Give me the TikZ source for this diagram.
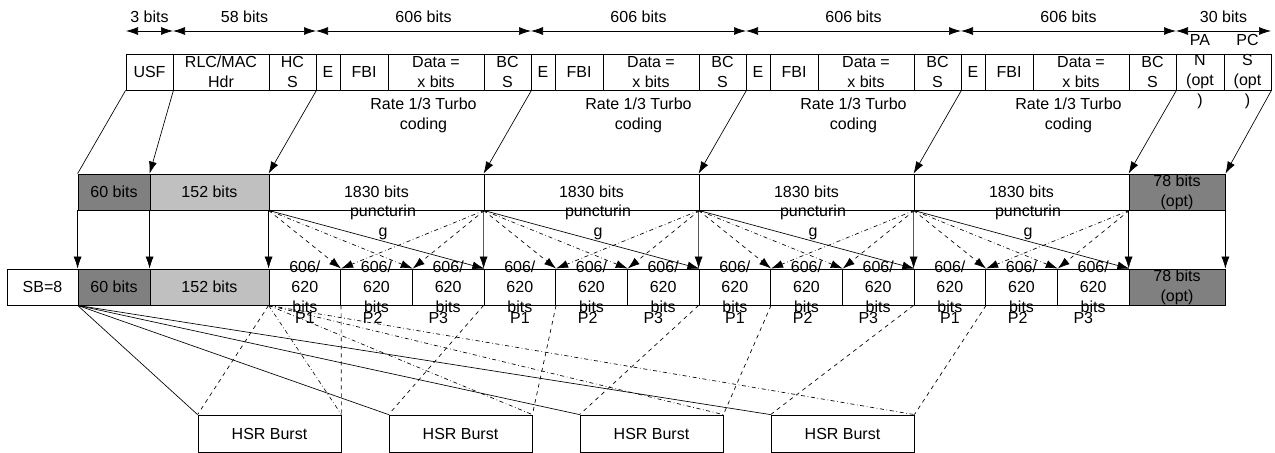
\documentclass[tikz,border=0pt]{standalone}
\usepackage{fontspec}
\setmainfont{Liberation Sans}
\usetikzlibrary{arrows.meta,fit}

\definecolor{dkfill}{HTML}{808080}
\definecolor{ltfill}{HTML}{C0C0C0}

\begin{document}
\begin{tikzpicture}[x=0.75pt, y=-0.75pt,
    every node/.style={font=\fontsize{12}{15}\selectfont},
    cell/.style={draw, inner sep=0pt, line width=0.6pt},
    lbl/.style={align=center, inner sep=0pt},
    wire/.style={line width=0.5pt},
    link/.style={wire, -{Latex[length=9pt,width=6pt]}},
    dim/.style={wire, {Latex[length=9pt,width=6pt]}-{Latex[length=9pt,width=6pt]}}]
    \useasboundingbox (0,0) rectangle (1275,453);

    % bit counts (top)
    \foreach \a/\b/\txt [count=\i] in {126/173/3 bits, 173/316/58 bits,
        316/531/606 bits, 531/746/606 bits, 746/961/606 bits,
        961/1176/606 bits, 1176/1271/30 bits} {
        \coordinate (dl\i) at (\a,31);
        \coordinate (dr\i) at (\b,31);
        \draw[dim] (dl\i) -- (dr\i);
        \node[lbl] (dt\i) at ({(\a+\b)/2},17) {\txt};
    }

    % RADIO BLOCK
    \foreach \nm/\xa/\xb/\txt in {usf/126/173/USF, hdr/173/269/{RLC/MAC\\Hdr},
        hcs/269/316/{HC\\S}, pan/1176/1224/{PA\\N\\(opt\\)},
        pcs/1224/1271/{PC\\S\\(opt\\)}} {
        \node[cell, fit={(\xa,54) (\xb,90)}] (\nm) {};
        \node[lbl] (\nm-t) at (\nm) {\txt};
    }
    \foreach \k in {0,...,3} {
        \node[cell, fit={({316+215*\k},54) ({340+215*\k},90)}] (e\k) {};
        \node[lbl] (e\k-t) at (e\k) {E};
        \node[cell, fit={({340+215*\k},54) ({388+215*\k},90)}] (fbi\k) {};
        \node[lbl] (fbi\k-t) at (fbi\k) {FBI};
        \node[cell, fit={({388+215*\k},54) ({484+215*\k},90)}] (data\k) {};
        \node[lbl] (data\k-t) at (data\k) {Data =\\x bits};
        \node[cell, fit={({484+215*\k},54) ({531+215*\k},90)}] (bcs\k) {};
        \node[lbl] (bcs\k-t) at (bcs\k) {BC\\S};
        \node[lbl] (rate\k) at ({423.5+215*\k},115) {Rate 1/3 Turbo\\coding};
    }

    % CODED BLOCK
    \node[cell, fill=dkfill, fit={(78,174) (150,210)}] (mid60) {};
    \node[lbl] (mid60-t) at (mid60) {60 bits};
    \node[cell, fill=ltfill, fit={(150,174) (269,210)}] (mid152) {};
    \node[lbl] (mid152-t) at (mid152) {152 bits};
    \foreach \k in {0,...,3} {
        \node[cell, fit={({269+215*\k},174) ({484+215*\k},210)}] (blk\k) {};
        \node[lbl] (blk\k-t) at (blk\k) {1830 bits};
        \node[lbl] (punc\k) at ({383+215*\k},222) {puncturin\\g};
    }
    \node[cell, fill=dkfill, fit={(1129,174) (1225,210)}] (mid78) {};
    \node[lbl] (mid78-t) at (mid78) {78 bits\\(opt)};

    % PUNCTURED BLOCK
    \node[cell, fit={(7,269) (78,305)}] (sb) {};
    \node[lbl] (sb-t) at (sb) {SB=8};
    \node[cell, fill=dkfill, fit={(78,269) (150,305)}] (bot60) {};
    \node[lbl] (bot60-t) at (bot60) {60 bits};
    \node[cell, fill=ltfill, fit={(150,269) (269,305)}] (bot152) {};
    \node[lbl] (bot152-t) at (bot152) {152 bits};
    \foreach \j in {0,...,11} {
        \node[cell, fit={({269+71.6667*\j},269) ({269+71.6667*(\j+1)},305)}] (p\j) {};
        \node[lbl] (p\j-t) at (p\j) {606/\\620\\bits};
    }
    \foreach \k in {0,...,3}
        \foreach \q/\off in {1/0, 2/-4, 3/-10}
            \node[lbl] (pl\k-\q) at ({305+215*\k+71.6667*(\q-1)+\off},318) {P\q};
    \node[cell, fill=dkfill, fit={(1129,269) (1225,305)}] (bot78) {};
    \node[lbl] (bot78-t) at (bot78) {78 bits\\(opt)};

    % bursts
    \foreach \j in {0,...,3} {
        \node[cell, fit={({198+191*\j},415) ({341+191*\j},452)}] (hsr\j) {};
        \node[lbl] (hsr\j-t) at (hsr\j) {HSR Burst};
    }

    % radio block -> coded block
    \draw[wire] (usf.south west) -- (mid60.north west);
    \draw[link] (usf.south east) -- (mid152.north west);
    \draw[link] (hcs.south east) -- (blk0.north west);
    \foreach \k/\n in {0/1, 1/2, 2/3}
        \draw[link] (bcs\k.south east) -- (blk\n.north west);
    \draw[link] (bcs3.south east) -- (mid78.north west);
    \draw[link] (pcs.south east) -- (mid78.north east);

    % coded block -> punctured block
    \draw[link] (mid60.south west) -- (bot60.north west);
    \draw[link] (mid152.south west) -- (bot152.north west);
    \draw[link] (mid78.south west) -- (bot78.north west);
    \draw[link] (mid78.south east) -- (bot78.north east);
    \foreach \k in {0,...,3} {
        \pgfmathtruncatemacro\pa{3*\k}
        \pgfmathtruncatemacro\pb{3*\k+1}
        \pgfmathtruncatemacro\pc{3*\k+2}
        \draw[link] (blk\k.south west) -- (p\pa.north west);
        \draw[link, dashed] (blk\k.south west) -- (p\pa.north east);
        \draw[link, dash dot] (blk\k.south west) -- (p\pb.north east);
        \draw[link] (blk\k.south west) -- (p\pc.north east);
        \draw[link, dashed] (blk\k.south east) -- (p\pb.north east);
        \draw[link, dash dot] (blk\k.south east) -- (p\pa.north east);
    }

    % punctured block -> bursts
    \foreach \j in {0,...,3} {
        \pgfmathtruncatemacro\pa{3*\j}
        \draw[wire] (bot60.south west) -- (hsr\j.north west);
        \draw[wire, dash dot] (p0.south west) -- (hsr\j.north east);
        \draw[wire, dashed] (p\pa.south west) -- (hsr\j.north west);
        \draw[wire, dashed] (p\pa.south east) -- (hsr\j.north east);
    }
\end{tikzpicture}
\end{document}
